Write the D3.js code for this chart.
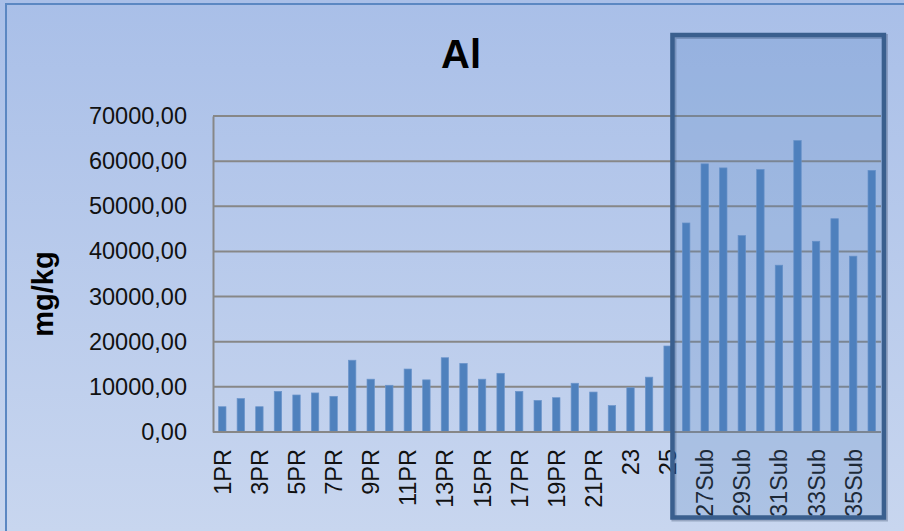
<!DOCTYPE html>
<html>
<head>
<meta charset="utf-8">
<script src="https://cdnjs.cloudflare.com/ajax/libs/d3/7.8.5/d3.min.js"></script>
<style>
  html, body { margin: 0; padding: 0; background: #aac0e8; }
  svg { display: block; }
</style>
</head>
<body>
<svg id="chart" width="904" height="531"></svg>
<script>
// Aluminium content per sample (mg/kg)
const categories = [
  "1PR","2PR","3PR","4PR","5PR","6PR","7PR","8PR","9PR","10PR",
  "11PR","12PR","13PR","14PR","15PR","16PR","17PR","18PR","19PR","20PR",
  "21PR","22PR","23","24","25","26",
  "27Sub","28Sub","29Sub","30Sub","31Sub","32Sub","33Sub","34Sub","35Sub","36Sub"
];
const alValues = [
  5600, 7400, 5600, 9000, 8200, 8650, 7900, 15900, 11700, 10350,
  13950, 11550, 16450, 15200, 11700, 13000, 9000, 7000, 7600, 10800,
  8850, 5850, 9800, 12150, 19050, 46300,
  59400, 58500, 43500, 58150, 36950, 64550, 42250, 47250, 38950, 57950
];
const yTicks = [0, 10000, 20000, 30000, 40000, 50000, 60000, 70000];
const highlighted = ["26", "36Sub"];   // first and last sample of the boxed group

const svg = d3.select("#chart");
const W = 904, H = 531;
const plot = { left: 213, right: 881, top: 116, bottom: 432 };

// Background gradient
const defs = svg.append("defs");
const bg = defs.append("linearGradient").attr("id", "bg")
  .attr("x1", 0).attr("y1", 0).attr("x2", 0).attr("y2", 1);
bg.append("stop").attr("offset", "0%").attr("stop-color", "#a9bfe8");
bg.append("stop").attr("offset", "100%").attr("stop-color", "#c8d6ef");
svg.append("rect").attr("width", W).attr("height", H).attr("fill", "url(#bg)");
// Outer frame
svg.append("rect").attr("x", 6).attr("y", 4).attr("width", W + 20).attr("height", H + 20)
  .attr("fill", "none").attr("stroke", "#5b87c2").attr("stroke-width", 2);

const x = d3.scaleBand().domain(categories).range([plot.left, plot.right])
  .paddingInner(0.6).paddingOuter(0.3);
const y = d3.scaleLinear().domain([0, 70000]).range([plot.bottom, plot.top]);

// Gridlines
svg.append("g").selectAll("line").data(yTicks.filter(d => d > 0)).join("line")
  .attr("x1", plot.left).attr("x2", plot.right)
  .attr("y1", d => y(d)).attr("y2", d => y(d))
  .attr("stroke", "#878787").attr("stroke-width", 2);

// Y axis
const yAxis = svg.append("g").attr("transform", `translate(${plot.left},0)`)
  .call(d3.axisLeft(y).tickValues(yTicks).tickSize(0).tickPadding(26)
    .tickFormat(d => d3.format(".2f")(d).replace(".", ",")));
yAxis.select(".domain").attr("stroke", "#878787").attr("stroke-width", 2);
yAxis.selectAll("text").attr("font-family", "'Liberation Sans', Arial, sans-serif")
  .attr("font-size", 23.5).attr("fill", "#111");

// Bars
svg.append("g").selectAll("rect").data(categories).join("rect")
  .attr("x", (d) => x(d))
  .attr("width", x.bandwidth())
  .attr("y", (d, i) => y(alValues[i]))
  .attr("height", (d, i) => y(0) - y(alValues[i]))
  .attr("fill", "#4f81bd").attr("stroke", "#6c95cb").attr("stroke-width", 0.7);

// Baseline
svg.append("line").attr("x1", plot.left).attr("x2", plot.right)
  .attr("y1", y(0)).attr("y2", y(0)).attr("stroke", "#878787").attr("stroke-width", 2);

// X axis labels (every second category)
const xAxis = svg.append("g").attr("transform", `translate(0,${plot.bottom})`)
  .call(d3.axisBottom(x).tickValues(categories.filter((d, i) => i % 2 === 0)).tickSize(0));
xAxis.select(".domain").remove();
xAxis.selectAll("text")
  .attr("font-family", "'Liberation Sans Narrow', 'Arial Narrow', 'Liberation Sans', sans-serif")
  .attr("font-size", 23.5).attr("fill", "#111")
  .attr("transform", "rotate(-90)")
  .attr("text-anchor", "end")
  .attr("x", -17).attr("y", 0).attr("dy", "0.36em");

// Title
svg.append("text").attr("x", 461).attr("y", 68).attr("text-anchor", "middle")
  .attr("font-family", "'Liberation Sans Narrow', 'Liberation Sans', sans-serif")
  .attr("font-weight", "bold").attr("font-size", 40).attr("fill", "#000").text("Al");

// Y axis title
svg.append("text").attr("transform", "translate(53,294) rotate(-90)")
  .attr("text-anchor", "middle")
  .attr("font-family", "'Liberation Sans', Arial, sans-serif")
  .attr("font-weight", "bold").attr("font-size", 29).attr("fill", "#000").text("mg/kg");

// Highlight box around the Sub group
const bx0 = x(highlighted[0]) - 10;
const bx1 = x(highlighted[1]) + x.bandwidth() + 8.5;
const by0 = 35, by1 = 517.5;
svg.append("rect").attr("x", bx0 + 1.5).attr("y", by0 + 1.5)
  .attr("width", bx1 - bx0).attr("height", by1 - by0)
  .attr("fill", "none").attr("stroke", "rgba(40,60,90,0.3)").attr("stroke-width", 5);
svg.append("rect").attr("x", bx0).attr("y", by0)
  .attr("width", bx1 - bx0).attr("height", by1 - by0)
  .attr("fill", "#4f81bd").attr("fill-opacity", 0.22)
  .attr("stroke", "#3a5f8e").attr("stroke-width", 4.5);
</script>
</body>
</html>
